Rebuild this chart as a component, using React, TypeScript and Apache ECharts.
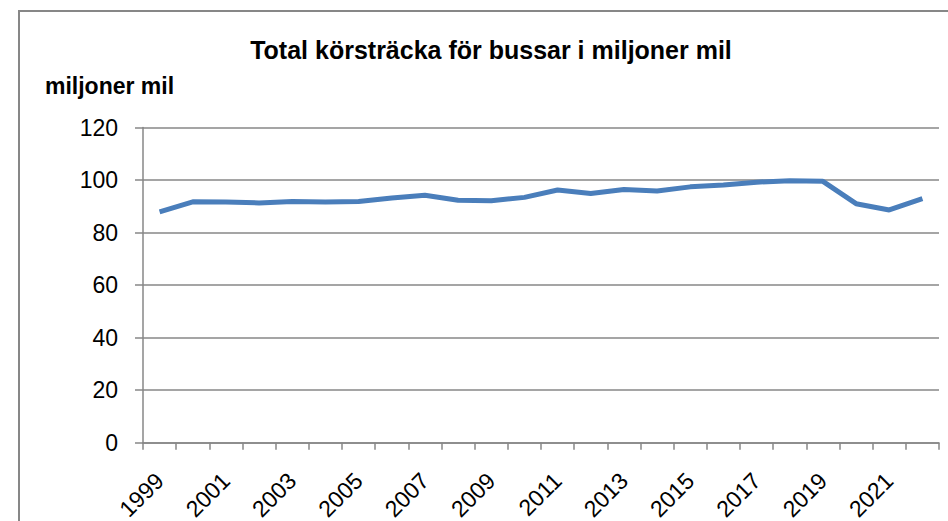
import React, { useEffect, useRef } from "react";
import * as echarts from "echarts";

const years: string[] = [
  "1999", "2000", "2001", "2002", "2003", "2004", "2005", "2006", "2007", "2008", "2009", "2010",
  "2011", "2012", "2013", "2014", "2015", "2016", "2017", "2018", "2019", "2020", "2021", "2022",
];
const mileage: number[] = [
  87.9, 91.7, 91.6, 91.3, 91.8, 91.6, 91.8, 93.2, 94.2, 92.3, 92.1, 93.4,
  96.2, 94.9, 96.4, 95.8, 97.4, 98.1, 99.2, 99.7, 99.5, 91.0, 88.6, 92.9,
];
const titleText = "Total körsträcka för bussar i miljoner mil";
const unitText = "miljoner mil";

const FONT = "'Liberation Sans', Arial, sans-serif";
const GRAY = "#878787";

export default function App() {
  const ref = useRef<HTMLDivElement>(null);
  useEffect(() => {
    if (!ref.current) return;
    const chart = echarts.init(ref.current, null, { renderer: "svg" });
    chart.setOption({
      animation: false,
      backgroundColor: "#ffffff",
      grid: {
        left: 143,
        right: 9,
        top: 127.5,
        bottom: 78.3,
        containLabel: false,
        outerBoundsMode: "none",
      },
      graphic: [
        {
          type: "rect",
          shape: { x: 19, y: 11, width: 1000, height: 600 },
          style: { fill: "none", stroke: GRAY, lineWidth: 2 },
          silent: true,
        },
        {
          type: "text",
          x: 491,
          y: 50,
          style: {
            text: titleText,
            font: `bold 25px ${FONT}`,
            fill: "#000",
            textAlign: "center",
            textVerticalAlign: "middle",
          },
        },
        {
          type: "text",
          x: 45,
          y: 86,
          style: {
            text: unitText,
            font: `bold 23px ${FONT}`,
            fill: "#000",
            textAlign: "left",
            textVerticalAlign: "middle",
          },
        },
      ],
      xAxis: {
        type: "category",
        data: years,
        boundaryGap: true,
        axisLine: { show: true, lineStyle: { color: GRAY, width: 1.5 } },
        axisTick: { show: true, interval: 0, length: 7, lineStyle: { color: GRAY, width: 1.5 } },
        axisLabel: {
          interval: 1,
          rotate: 45,
          margin: 34,
          color: "#000",
          fontSize: 23,
          fontFamily: FONT,
        },
        splitLine: { show: false },
      },
      yAxis: {
        type: "value",
        min: 0,
        max: 120,
        interval: 20,
        axisLine: { show: true, lineStyle: { color: GRAY, width: 1.5 } },
        axisTick: { show: true, length: 8, lineStyle: { color: GRAY, width: 1.5 } },
        axisLabel: { margin: 25, color: "#000", fontSize: 23, fontFamily: FONT },
        splitLine: { show: true, lineStyle: { color: GRAY, width: 1.5 } },
      },
      series: [
        {
          type: "line",
          data: mileage,
          showSymbol: false,
          symbol: "none",
          lineStyle: { color: "#4a7ebb", width: 5 },
          itemStyle: { color: "#4a7ebb" },
        },
      ],
    });
    return () => chart.dispose();
  }, []);
  return (
    <div
      ref={ref}
      style={{ position: "fixed", left: 0, top: 0, width: 948, height: 521, background: "#fff" }}
    />
  );
}
